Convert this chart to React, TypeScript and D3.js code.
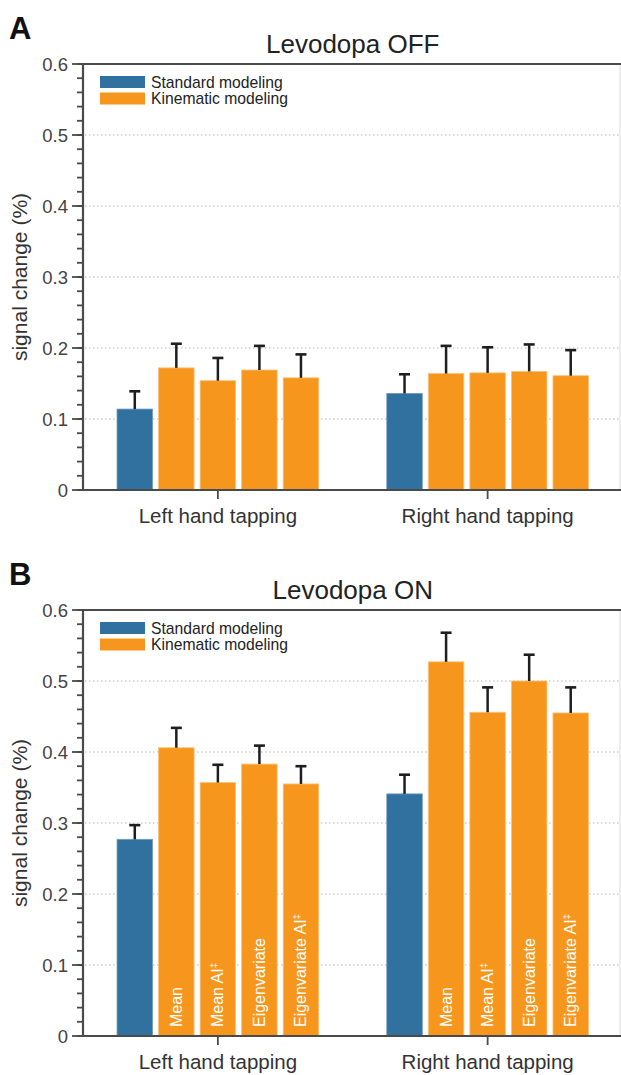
import React from 'react';
import * as d3 from 'd3';

// categories
const groups = ['Left hand tapping', 'Right hand tapping'];
const methods = ['Standard', 'Mean', 'Mean AI', 'Eigenvariate', 'Eigenvariate AI'];
const methodLabels = ['', 'Mean', 'Mean AI', 'Eigenvariate', 'Eigenvariate AI'];
const legendLabels = ['Standard modeling', 'Kinematic modeling'];
const yTickValues = [0, 0.1, 0.2, 0.3, 0.4, 0.5, 0.6];

// Levodopa OFF
const offLeft = [0.114, 0.172, 0.154, 0.169, 0.158];
const offLeftErr = [0.025, 0.034, 0.032, 0.034, 0.033];
const offRight = [0.136, 0.164, 0.165, 0.167, 0.161];
const offRightErr = [0.027, 0.039, 0.036, 0.038, 0.036];

// Levodopa ON
const onLeft = [0.277, 0.406, 0.357, 0.383, 0.355];
const onLeftErr = [0.020, 0.028, 0.025, 0.026, 0.025];
const onRight = [0.341, 0.527, 0.456, 0.500, 0.455];
const onRightErr = [0.027, 0.041, 0.035, 0.037, 0.036];

const BLUE = '#30719f';
const ORANGE = '#f7961d';
const FONT = '"Liberation Sans", Arial, Helvetica, sans-serif';

const fmt = (d: number) => (d === 0 ? '0' : d3.format('.1f')(d));

function Panel({ top, letter, title, values, errors, showLabels }: any) {
    const margin = { l: 83, r: 622.5 };
    const plotTop = top + 64;
    const plotBottom = top + 490;

    const y = d3.scaleLinear().domain([0, 0.6]).range([plotBottom, plotTop]);
    const x0 = d3.scaleBand().domain(groups).range([margin.l, margin.r]).padding(0);
    const inner = 201.7;
    const x1 = d3.scaleBand().domain(methods).range([0, inner]).paddingInner(0.145).paddingOuter(0);

    const minorTicks = d3.range(0, 0.6001, 0.02);

    return (
        <g>
            <text x={9} y={top + 39} fontSize={31} fontWeight="bold" fill="#111">{letter}</text>
            <text x={(margin.l + margin.r) / 2} y={top + 53} fontSize={26} textAnchor="middle" fill="#222">{title}</text>

            {/* grid */}
            {yTickValues.filter(d => d > 0 && d < 0.6).map(d =>
                <line key={'g' + d} x1={margin.l + 2} x2={620} y1={y(d)} y2={y(d)}
                      stroke="#b5b5b5" strokeWidth={1.2} strokeDasharray="1.5,2.5"/>
            )}

            {/* bars */}
            {groups.map((g, gi) => {
                const gx = x0(g)! + x0.bandwidth() / 2 - inner / 2;
                return (
                    <g key={g} transform={`translate(${gx},0)`}>
                        {methods.map((m, mi) => {
                            const v = values[gi][mi];
                            const e = errors[gi][mi];
                            const bx = x1(m)!;
                            const bw = x1.bandwidth();
                            const cx = bx + bw / 2;
                            return (
                                <g key={m}>
                                    <rect x={bx} y={y(v)} width={bw} height={y(0) - y(v)}
                                          fill={mi === 0 ? BLUE : ORANGE}
                                          stroke={mi === 0 ? '#6f9cc0' : '#fbc27a'} strokeWidth={0.8}/>
                                    <line x1={cx} x2={cx} y1={y(v)} y2={y(v + e)} stroke="#1e1e1e" strokeWidth={2.5}/>
                                    <line x1={cx - 5.5} x2={cx + 5.5} y1={y(v + e)} y2={y(v + e)} stroke="#1e1e1e" strokeWidth={2.6}/>
                                    {showLabels && mi > 0 ?
                                        <text transform={`translate(${cx},${y(0) - 9}) rotate(-90)`}
                                              fontSize={16} fill="#fff" dominantBaseline="central">
                                            {methodLabels[mi].endsWith('AI') ?
                                                <>{methodLabels[mi]}<tspan fontSize={9.5} dy={-4.5}>‡</tspan></> :
                                                methodLabels[mi]}
                                        </text> : null}
                                </g>
                            );
                        })}
                    </g>
                );
            })}

            {/* axes */}
            <line x1={620} x2={620} y1={plotTop} y2={plotBottom} stroke="#dcdcdc" strokeWidth={1}/>
            <line x1={margin.l} x2={margin.r} y1={plotTop} y2={plotTop} stroke="#4a4a4a" strokeWidth={2.2}/>
            <line x1={margin.l} x2={margin.r} y1={plotBottom} y2={plotBottom} stroke="#4a4a4a" strokeWidth={2.2}/>
            <line x1={margin.l} x2={margin.l} y1={plotTop} y2={plotBottom} stroke="#4a4a4a" strokeWidth={2.2}/>

            {minorTicks.map(d =>
                <line key={'m' + d} x1={margin.l - 6} x2={margin.l} y1={y(d)} y2={y(d)} stroke="#4a4a4a" strokeWidth={1.8}/>
            )}
            {yTickValues.map(d =>
                <g key={'t' + d} transform={`translate(${margin.l},${y(d)})`}>
                    <line x1={-11} x2={0} y1={0} y2={0} stroke="#4a4a4a" strokeWidth={1.8}/>
                    <text x={-15} y={6.5} fontSize={18.5} textAnchor="end" fill="#444">{fmt(d)}</text>
                </g>
            )}

            {groups.map(g => {
                const cx = x0(g)! + x0.bandwidth() / 2;
                return (
                    <g key={'x' + g} transform={`translate(${cx},${plotBottom})`}>
                        <line x1={0} x2={0} y1={0} y2={9} stroke="#4a4a4a" strokeWidth={1.8}/>
                        <text x={0} y={33} fontSize={20.5} textAnchor="middle" fill="#333">{g}</text>
                    </g>
                );
            })}

            <text transform={`translate(19,${(plotTop + plotBottom) / 2}) rotate(-90)`} fontSize={21}
                  textAnchor="middle" dominantBaseline="central" fill="#333">signal change (%)</text>

            {/* legend */}
            {legendLabels.map((l, i) =>
                <g key={l} transform={`translate(100,${top + 76 + i * 16.5})`}>
                    <rect x={0} y={0} width={45} height={12} fill={i === 0 ? BLUE : ORANGE}/>
                    <text x={51} y={11.5} fontSize={15.7} fill="#222">{l}</text>
                </g>
            )}
        </g>
    );
}

export default function App() {
    const width = 621;
    const height = 1075;
    return (
        <svg width={width} height={height} style={{ position: 'absolute', left: 0, top: 0, fontFamily: FONT, background: '#fff' }}>
            <Panel top={0} letter="A" title="Levodopa OFF"
                   values={[offLeft, offRight]} errors={[offLeftErr, offRightErr]} showLabels={false}/>
            <Panel top={546} letter="B" title="Levodopa ON"
                   values={[onLeft, onRight]} errors={[onLeftErr, onRightErr]} showLabels={true}/>
        </svg>
    );
}
